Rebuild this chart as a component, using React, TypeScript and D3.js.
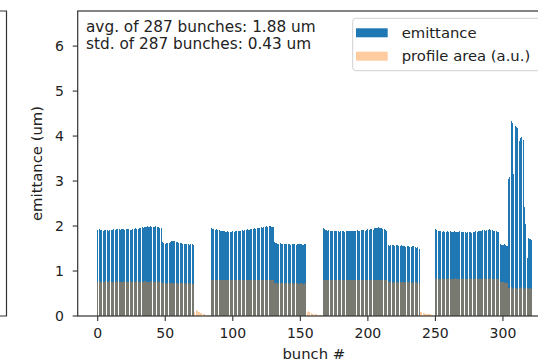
import React from "react";
import * as d3 from "d3";

// ---- data ----
const groupStarts = [0, 84, 167, 250];

const emitG1 = [
  1.92, 1.93, 1.91, 1.92, 1.9, 1.91, 1.92, 1.91, 1.9, 1.92,
  1.91, 1.92, 1.93, 1.92, 1.93, 1.94, 1.93, 1.92, 1.94, 1.93,
  1.92, 1.93, 1.94, 1.93, 1.92, 1.91, 1.93, 1.94, 1.95, 1.94,
  1.93, 1.95, 1.96, 1.97, 1.96, 1.98, 1.97, 1.99, 1.98, 1.99,
  1.98, 1.97, 1.98, 1.99, 1.98, 1.97, 1.96, 1.95,
  1.64, 1.62, 1.61, 1.62, 1.63, 1.62, 1.64, 1.66, 1.67, 1.66, 1.65, 1.64,
  1.63, 1.62, 1.63, 1.61, 1.6, 1.61, 1.6, 1.59, 1.58, 1.6, 1.59, 1.58,
];
const emitG2 = [
  1.95, 1.94, 1.93, 1.92, 1.93, 1.91, 1.92, 1.9, 1.89, 1.9,
  1.88, 1.87, 1.88, 1.87, 1.86, 1.87, 1.88, 1.87, 1.88, 1.89,
  1.88, 1.9, 1.89, 1.91, 1.9, 1.92, 1.91, 1.93, 1.92, 1.94,
  1.93, 1.94, 1.95, 1.94, 1.96, 1.95, 1.96, 1.97, 1.96, 1.98,
  1.97, 1.99, 1.98, 2.0, 1.99, 1.98, 1.97,
  1.64, 1.62, 1.61, 1.6, 1.62, 1.61, 1.6, 1.59, 1.61, 1.6, 1.59, 1.6,
  1.58, 1.59, 1.6, 1.59, 1.58, 1.6, 1.61, 1.6, 1.59, 1.58, 1.6, 1.59,
];
const emitG3 = [
  1.96, 1.93, 1.91, 1.9, 1.91, 1.89, 1.9, 1.88, 1.89, 1.88,
  1.89, 1.88, 1.87, 1.88, 1.89, 1.88, 1.87, 1.88, 1.89, 1.88,
  1.89, 1.9, 1.89, 1.88, 1.9, 1.91, 1.9, 1.89, 1.91, 1.92,
  1.91, 1.9, 1.92, 1.93, 1.92, 1.94, 1.93, 1.92, 1.95, 1.96,
  1.95, 1.97, 1.96, 1.95, 1.94, 1.93, 1.92, 1.9,
  1.58, 1.56, 1.57, 1.58, 1.57, 1.56, 1.58, 1.57, 1.56, 1.55, 1.57, 1.56,
  1.55, 1.54, 1.56, 1.55, 1.53, 1.54, 1.56, 1.55, 1.53, 1.52, 1.54, 1.5,
];
const emitG4 = [
  1.94, 1.92, 1.9, 1.88, 1.89, 1.87, 1.88, 1.86, 1.87, 1.88,
  1.87, 1.88, 1.86, 1.87, 1.88, 1.87, 1.86, 1.87, 1.88, 1.87,
  1.86, 1.87, 1.86, 1.85, 1.86, 1.87, 1.86, 1.85, 1.86, 1.87,
  1.88, 1.87, 1.89, 1.9, 1.89, 1.91, 1.92, 1.9, 1.91, 1.92,
  1.93, 1.91, 1.92, 1.9, 1.89, 1.88, 1.87, 1.86,
  1.6, 1.58, 1.57, 1.59, 1.58, 1.56,
  3.05, 3.1, 4.34, 4.3, 3.15, 4.22, 4.2, 4.18, 3.9, 3.95, 3.97, 3.92, 2.42, 2.05, 1.3, 1.74, 1.72, 1.7,
];
const emitGroups = [emitG1, emitG2, emitG3, emitG4];

// profile area, bunches 0..321 in consecutive segments
const profA = [
  0.76, 0.77, 0.76, 0.76, 0.75, 0.76, 0.77, 0.76, 0.76, 0.77, 0.76, 0.75,
  0.76, 0.76, 0.77, 0.76, 0.75, 0.76, 0.76, 0.77, 0.76, 0.76, 0.75, 0.76,
  0.77, 0.76, 0.76, 0.75, 0.76, 0.77, 0.76, 0.76, 0.75, 0.76, 0.76, 0.77,
  0.76, 0.75, 0.76, 0.76, 0.77, 0.76, 0.75, 0.76, 0.76, 0.77, 0.76, 0.75,
  0.73, 0.74, 0.73, 0.72, 0.73, 0.74, 0.73, 0.73, 0.72, 0.73, 0.74, 0.73,
  0.72, 0.73, 0.73, 0.74, 0.73, 0.72, 0.73, 0.72, 0.73, 0.73, 0.72, 0.72,
];
const profGap1 = [0.1, 0.13, 0.12, 0.09, 0.07, 0.06, 0.05, 0.04, 0.03, 0.03, 0.02, 0.02];
const profB = [
  0.8, 0.81, 0.8, 0.79, 0.8, 0.81, 0.8, 0.8, 0.79, 0.8, 0.81, 0.8,
  0.79, 0.8, 0.8, 0.81, 0.8, 0.79, 0.8, 0.8, 0.81, 0.8, 0.79, 0.8,
  0.8, 0.81, 0.8, 0.8, 0.79, 0.8, 0.81, 0.8, 0.8, 0.79, 0.8, 0.8,
  0.81, 0.8, 0.79, 0.8, 0.8, 0.81, 0.8, 0.79, 0.8, 0.8, 0.79,
  0.74, 0.73, 0.72, 0.73, 0.74, 0.73, 0.73, 0.72, 0.73, 0.74, 0.73, 0.72,
  0.73, 0.73, 0.72, 0.73, 0.74, 0.73, 0.72, 0.73, 0.73, 0.72, 0.73, 0.72,
];
const profGap2 = [0.09, 0.11, 0.08, 0.06, 0.05, 0.04, 0.05, 0.04, 0.03, 0.03, 0.02, 0.03];
const profC = [
  0.8, 0.79, 0.8, 0.81, 0.8, 0.8, 0.79, 0.8, 0.81, 0.8, 0.8, 0.79,
  0.8, 0.8, 0.81, 0.8, 0.79, 0.8, 0.8, 0.81, 0.8, 0.79, 0.8, 0.8,
  0.81, 0.8, 0.8, 0.79, 0.8, 0.81, 0.8, 0.8, 0.79, 0.8, 0.8, 0.81,
  0.8, 0.79, 0.8, 0.8, 0.81, 0.8, 0.79, 0.8, 0.8, 0.81, 0.8, 0.79,
  0.75, 0.76, 0.75, 0.74, 0.75, 0.76, 0.75, 0.75, 0.74, 0.75, 0.76, 0.75,
  0.74, 0.75, 0.75, 0.76, 0.75, 0.74, 0.75, 0.74, 0.75, 0.75, 0.74, 0.74,
];
const profGap3 = [0.08, 0.1, 0.07, 0.06, 0.05, 0.04, 0.05, 0.04, 0.03, 0.03, 0.02];
const profD = [
  0.83, 0.84, 0.83, 0.82, 0.83, 0.84, 0.83, 0.83, 0.82, 0.83, 0.84, 0.83,
  0.82, 0.83, 0.83, 0.84, 0.83, 0.82, 0.83, 0.83, 0.84, 0.83, 0.82, 0.83,
  0.83, 0.84, 0.83, 0.83, 0.82, 0.83, 0.84, 0.83, 0.83, 0.82, 0.83, 0.83,
  0.84, 0.83, 0.82, 0.83, 0.83, 0.84, 0.83, 0.82, 0.83, 0.83, 0.82, 0.82,
  0.75, 0.76, 0.75, 0.74, 0.75, 0.74,
  0.63, 0.62, 0.64, 0.61, 0.62, 0.63, 0.62, 0.61, 0.63, 0.62, 0.64, 0.62, 0.61, 0.62, 0.63, 0.61, 0.62, 0.6,
];
const profileSegments = [profA, profGap1, profB, profGap2, profC, profGap3, profD];

const xTicks = [0, 50, 100, 150, 200, 250, 300];
const yTicks = [0, 1, 2, 3, 4, 5, 6];
const annotLines = ["avg. of 287 bunches: 1.88 um", "std. of 287 bunches: 0.43 um"];
const legendItems = [
  { label: "emittance", color: "#1f77b4", opacity: 1 },
  { label: "profile area (a.u.)", color: "#ff7f0e", opacity: 0.4 },
];

const W = 538;
const H = 363;
const FONT = "DejaVu Sans, sans-serif";

export default function App() {
  const x = d3.scaleLinear().domain([-14.8, 336]).range([77.7, 551.6]);
  const y = d3.scaleLinear().domain([0, 6.78]).range([316, 11]);
  const bw = x(0.8) - x(0);

  const emitBars: { b: number; v: number }[] = [];
  emitGroups.forEach((g, gi) => g.forEach((v, i) => emitBars.push({ b: groupStarts[gi] + i, v })));
  const profBars: { b: number; v: number }[] = [];
  let idx = 0;
  profileSegments.forEach((seg) => seg.forEach((v) => profBars.push({ b: idx++, v })));

  const [x0, x1] = x.range();
  const [yb, yt] = y.range();
  const axisColor = "#333";
  const textColor = "#222";

  return (
    <svg width={W} height={H} style={{ position: "absolute", left: 0, top: 0, background: "#fff" }} fontFamily={FONT}>
      <rect x={0} y={0} width={W} height={H} fill="#fff" />
      {/* remnant of neighbouring subplot */}
      <path d={`M0,${yt} H6.5 V${yb} H0`} fill="none" stroke={axisColor} strokeWidth={1.2} />

      <g shapeRendering="crispEdges">
        {emitBars.map((d) => (
          <rect key={"e" + d.b} x={x(d.b - 0.4)} y={y(d.v)} width={bw} height={y(0) - y(d.v)} fill="#1f77b4" />
        ))}
        {profBars.map((d) => (
          <rect key={"p" + d.b} x={x(d.b - 0.4)} y={y(d.v)} width={bw} height={y(0) - y(d.v)} fill="#ff7f0e" fillOpacity={0.4} />
        ))}
      </g>

      {/* spines */}
      <rect x={x0} y={yt} width={x1 - x0} height={yb - yt} fill="none" stroke={axisColor} strokeWidth={1.2} />

      {/* x ticks */}
      {xTicks.map((t) => (
        <g key={"xt" + t}>
          <line x1={x(t)} x2={x(t)} y1={yb} y2={yb + 5} stroke={axisColor} strokeWidth={1.1} />
          <text x={x(t)} y={338} textAnchor="middle" fontSize={14} fill={textColor}>
            {t}
          </text>
        </g>
      ))}
      {/* y ticks */}
      {yTicks.map((t) => (
        <g key={"yt" + t}>
          <line x1={x0 - 5} x2={x0} y1={y(t)} y2={y(t)} stroke={axisColor} strokeWidth={1.1} />
          <text x={64} y={y(t)} dy="0.36em" textAnchor="end" fontSize={14} fill={textColor}>
            {t}
          </text>
        </g>
      ))}

      <text x={313.8} y={359} textAnchor="middle" fontSize={14.8} fill={textColor}>
        bunch #
      </text>
      <text
        transform={`translate(37,${(yb + yt) / 2}) rotate(-90)`}
        textAnchor="middle"
        dy="0.36em"
        fontSize={14.8}
        fill={textColor}
      >
        emittance (um)
      </text>

      {/* annotation */}
      {annotLines.map((s, i) => (
        <text key={s} x={86} y={31.5 + i * 17.5} fontSize={15.3} fill={textColor}>
          {s}
        </text>
      ))}

      {/* legend */}
      <rect x={352.7} y={18.3} width={210} height={52.4} rx={3} fill="#fff" fillOpacity={0.8} stroke="#d0d0d0" strokeWidth={1} />
      {legendItems.map((it, i) => (
        <g key={it.label}>
          <rect x={356} y={28.3 + i * 23.4} width={31.7} height={9} fill={it.color} fillOpacity={it.opacity} />
          <text x={401.7} y={38 + i * 23.4} fontSize={14.8} fill={textColor}>
            {it.label}
          </text>
        </g>
      ))}
    </svg>
  );
}
